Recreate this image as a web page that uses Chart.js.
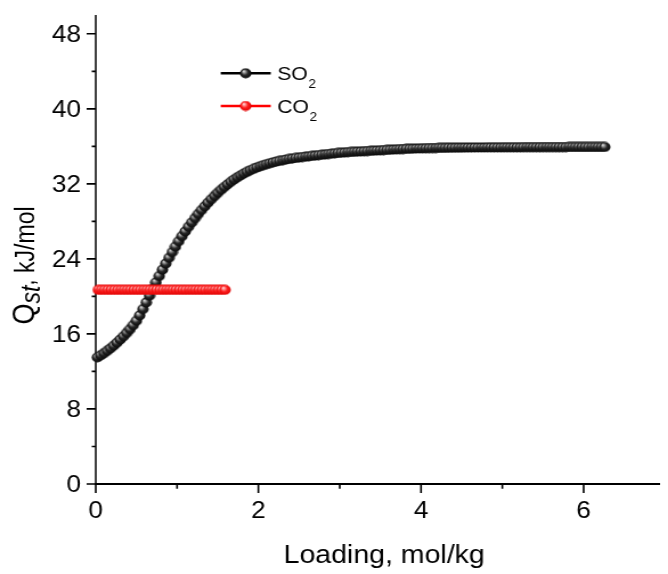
<!DOCTYPE html>
<html lang="en">
<head>
<meta charset="UTF-8" />
<title>Qst vs loading</title>
<script src="https://cdn.jsdelivr.net/npm/chart.js"></script>
<style>
  html, body { margin: 0; padding: 0; background: #fff; overflow: hidden; }
  /* figure is laid out narrow, then stretched sideways */
  .stretch { width: 586px; height: 574px; transform: scaleX(1.14); transform-origin: 0 0; }
  canvas { display: block; }
</style>
</head>
<body>
<div class="stretch"><canvas id="qstChart" width="586" height="574"></canvas></div>
<script>
// SO2 isosteric heat, kJ/mol, against loading, mol/kg
const so2Loading = [
  0.02, 0.06, 0.10, 0.14, 0.18, 0.22, 0.26, 0.30, 0.34, 0.38,
  0.42, 0.46, 0.50, 0.54, 0.58, 0.62, 0.66, 0.70, 0.74, 0.78,
  0.82, 0.86, 0.90, 0.94, 0.98, 1.02, 1.06, 1.10, 1.14, 1.18,
  1.22, 1.26, 1.30, 1.34, 1.38, 1.42, 1.46, 1.50, 1.54, 1.58,
  1.62, 1.66, 1.70, 1.74, 1.78, 1.82, 1.86, 1.90, 1.94, 1.98,
  2.02, 2.06, 2.10, 2.14, 2.18, 2.22, 2.26, 2.30, 2.34, 2.38,
  2.42, 2.46, 2.50, 2.54, 2.58, 2.62, 2.66, 2.70, 2.74, 2.78,
  2.82, 2.86, 2.90, 2.94, 2.98, 3.02, 3.06, 3.10, 3.14, 3.18,
  3.22, 3.26, 3.30, 3.34, 3.38, 3.42, 3.46, 3.50, 3.54, 3.58,
  3.62, 3.66, 3.70, 3.74, 3.78, 3.82, 3.86, 3.90, 3.94, 3.98,
  4.02, 4.06, 4.10, 4.14, 4.18, 4.22, 4.26, 4.30, 4.34, 4.38,
  4.42, 4.46, 4.50, 4.54, 4.58, 4.62, 4.66, 4.70, 4.74, 4.78,
  4.82, 4.86, 4.90, 4.94, 4.98, 5.02, 5.06, 5.10, 5.14, 5.18,
  5.22, 5.26, 5.30, 5.34, 5.38, 5.42, 5.46, 5.50, 5.54, 5.58,
  5.62, 5.66, 5.70, 5.74, 5.78, 5.82, 5.86, 5.90, 5.94, 5.98,
  6.02, 6.06, 6.10, 6.14, 6.18, 6.22, 6.26
];
const so2Qst = [
  13.50, 13.72, 13.95, 14.20, 14.46, 14.75, 15.06, 15.40, 15.75, 16.11,
  16.50, 16.93, 17.40, 17.98, 18.65, 19.35, 20.08, 20.80, 21.50, 22.18,
  22.85, 23.50, 24.12, 24.72, 25.31, 25.88, 26.42, 26.93, 27.42, 27.89,
  28.34, 28.78, 29.20, 29.60, 29.99, 30.36, 30.71, 31.04, 31.36, 31.66,
  31.94, 32.21, 32.46, 32.69, 32.90, 33.10, 33.28, 33.45, 33.60, 33.74,
  33.87, 33.99, 34.10, 34.20, 34.29, 34.37, 34.45, 34.52, 34.59, 34.65,
  34.71, 34.76, 34.81, 34.86, 34.90, 34.94, 34.98, 35.02, 35.06, 35.10,
  35.14, 35.18, 35.22, 35.26, 35.29, 35.32, 35.35, 35.38, 35.40, 35.42,
  35.44, 35.46, 35.48, 35.50, 35.52, 35.54, 35.56, 35.58, 35.60, 35.62,
  35.64, 35.66, 35.68, 35.70, 35.71, 35.73, 35.74, 35.75, 35.77, 35.78,
  35.79, 35.80, 35.81, 35.82, 35.82, 35.83, 35.84, 35.84, 35.85, 35.85,
  35.86, 35.86, 35.86, 35.87, 35.87, 35.87, 35.88, 35.88, 35.88, 35.88,
  35.89, 35.89, 35.89, 35.89, 35.89, 35.90, 35.90, 35.90, 35.90, 35.90,
  35.90, 35.91, 35.91, 35.91, 35.91, 35.91, 35.91, 35.92, 35.92, 35.92,
  35.92, 35.92, 35.92, 35.92, 35.92, 35.93, 35.93, 35.93, 35.93, 35.93,
  35.93, 35.93, 35.93, 35.93, 35.93, 35.93, 35.93
];

// CO2 isosteric heat, flat
const co2Loading = [
  0.03, 0.07, 0.11, 0.15, 0.19, 0.23, 0.27, 0.31, 0.35, 0.39,
  0.43, 0.47, 0.51, 0.55, 0.59, 0.63, 0.67, 0.71, 0.75, 0.79,
  0.83, 0.87, 0.91, 0.95, 0.99, 1.03, 1.07, 1.11, 1.15, 1.19,
  1.23, 1.27, 1.31, 1.35, 1.39, 1.43, 1.47, 1.51, 1.55, 1.59
];
const co2Qst = [
  20.7, 20.7, 20.7, 20.7, 20.7, 20.7, 20.7, 20.7, 20.7, 20.7,
  20.7, 20.7, 20.7, 20.7, 20.7, 20.7, 20.7, 20.7, 20.7, 20.7,
  20.7, 20.7, 20.7, 20.7, 20.7, 20.7, 20.7, 20.7, 20.7, 20.7,
  20.7, 20.7, 20.7, 20.7, 20.7, 20.7, 20.7, 20.7, 20.7, 20.7
];

const xMajor = [0, 2, 4, 6];
const xMinor = [1, 3, 5];
const yMajor = [0, 8, 16, 24, 32, 40, 48];
const yMinor = [4, 12, 20, 28, 36, 44];

const FONT = '"Liberation Sans", Arial, Helvetica, sans-serif';

// little shaded ball used as the marker
function ball(light, base, dark) {
  const r = 5;
  const c = document.createElement('canvas');
  c.width = c.height = 2 * r + 1;
  const g = c.getContext('2d');
  const grad = g.createRadialGradient(r - 1.2, r - 1.6, 0.2, r + 0.5, r + 0.5, r + 0.6);
  grad.addColorStop(0, light);
  grad.addColorStop(0.5, base);
  grad.addColorStop(1, dark);
  g.fillStyle = grad;
  g.beginPath();
  g.arc(r + 0.5, r + 0.5, r, 0, Math.PI * 2);
  g.fill();
  return c;
}
const blackBall = ball('#e0e0e0', '#2a2a2a', '#000000');
const redBall = ball('#ffe0e0', '#ff2020', '#d80000');

function pts(xs, ys) {
  return xs.map((x, i) => ({ x: x, y: ys[i] }));
}

const frame = {
  id: 'frame',
  beforeDatasetsDraw(chart) {
    const { ctx, chartArea: a, scales: { x, y } } = chart;
    ctx.save();
    ctx.strokeStyle = '#000';
    // y axis + ticks
    ctx.lineWidth = 1.5;
    ctx.beginPath();
    ctx.moveTo(a.left, a.top);
    ctx.lineTo(a.left, a.bottom + 1);
    ctx.stroke();
    ctx.lineWidth = 1.7;
    ctx.beginPath();
    yMajor.forEach(v => { const p = y.getPixelForValue(v); ctx.moveTo(a.left - 8, p); ctx.lineTo(a.left, p); });
    yMinor.forEach(v => { const p = y.getPixelForValue(v); ctx.moveTo(a.left - 3.5, p); ctx.lineTo(a.left, p); });
    ctx.stroke();
    // x axis + ticks
    ctx.lineWidth = 1.9;
    ctx.beginPath();
    ctx.moveTo(a.left - 0.7, a.bottom);
    ctx.lineTo(a.right, a.bottom);
    ctx.stroke();
    ctx.lineWidth = 1.6;
    ctx.beginPath();
    xMajor.forEach(v => { const p = x.getPixelForValue(v); ctx.moveTo(p, a.bottom); ctx.lineTo(p, a.bottom + 9); });
    xMinor.forEach(v => { const p = x.getPixelForValue(v); ctx.moveTo(p, a.bottom); ctx.lineTo(p, a.bottom + 4.7); });
    ctx.stroke();
    ctx.restore();
  },
  afterDraw(chart) {
    const { ctx, chartArea: a, scales: { x, y } } = chart;
    ctx.save();
    ctx.fillStyle = '#000';

    // tick labels
    ctx.font = '23px ' + FONT;
    ctx.textBaseline = 'alphabetic';
    ctx.textAlign = 'right';
    yMajor.forEach(v => ctx.fillText(String(v), a.left - 13, y.getPixelForValue(v) + 8.3));
    ctx.textAlign = 'center';
    xMajor.forEach(v => ctx.fillText(String(v), x.getPixelForValue(v), 518));

    // x title
    ctx.font = '25px ' + FONT;
    ctx.fillText('Loading, mol/kg', 337, 563);

    // y title: Q with italic subscript st
    const parts = [
      { t: 'Q', f: '27px ' + FONT, dy: 0 },
      { t: 'st', f: 'italic 23px ' + FONT, dy: 5 },
      { t: ', kJ/mol', f: '23px ' + FONT, dy: 0 }
    ];
    let total = 0;
    parts.forEach(p => { ctx.font = p.f; p.w = ctx.measureText(p.t).width; total += p.w; });
    ctx.translate(30, 265.5);
    ctx.rotate(-Math.PI / 2);
    ctx.textAlign = 'left';
    let cx = -total / 2;
    parts.forEach(p => { ctx.font = p.f; ctx.fillText(p.t, cx, p.dy); cx += p.w; });
    ctx.setTransform(1, 0, 0, 1, 0, 0);

    // legend
    const rows = [
      { name: 'SO', color: '#000', img: blackBall, y: 73.3 },
      { name: 'CO', color: '#ff0000', img: redBall, y: 106 }
    ];
    rows.forEach(r => {
      ctx.strokeStyle = r.color;
      ctx.lineWidth = 2.6;
      ctx.beginPath();
      ctx.moveTo(193.6, r.y);
      ctx.lineTo(237.5, r.y);
      ctx.stroke();
      ctx.drawImage(r.img, 215.5 - r.img.width / 2, r.y - r.img.height / 2);
      ctx.fillStyle = '#000';
      ctx.textAlign = 'left';
      ctx.font = '18.5px ' + FONT;
      ctx.fillText(r.name, 243.2, r.y + 6.7);
      const w = ctx.measureText(r.name).width;
      ctx.font = '12px ' + FONT;
      ctx.fillText('2', 243.2 + w + 0.5, r.y + 15);
    });
    ctx.restore();
  }
};

new Chart(document.getElementById('qstChart'), {
  type: 'scatter',
  data: {
    datasets: [
      {
        label: 'SO2',
        data: pts(so2Loading, so2Qst),
        showLine: true,
        borderColor: '#000',
        borderWidth: 2,
        pointStyle: blackBall,
        pointRadius: 5,
        order: 1,
        clip: false
      },
      {
        label: 'CO2',
        data: pts(co2Loading, co2Qst),
        showLine: true,
        borderColor: '#ff0000',
        borderWidth: 2,
        pointStyle: redBall,
        pointRadius: 5,
        order: 0,
        clip: false
      }
    ]
  },
  options: {
    responsive: false,
    animation: false,
    devicePixelRatio: 1,
    layout: { padding: { left: 84, right: 0, top: 15, bottom: 90 } },
    scales: {
      x: { type: 'linear', display: false, min: 0, max: 6.94 },
      y: { type: 'linear', display: false, min: 0, max: 50 }
    },
    plugins: {
      legend: { display: false },
      tooltip: { enabled: false }
    }
  },
  plugins: [frame]
});
</script>
</body>
</html>
